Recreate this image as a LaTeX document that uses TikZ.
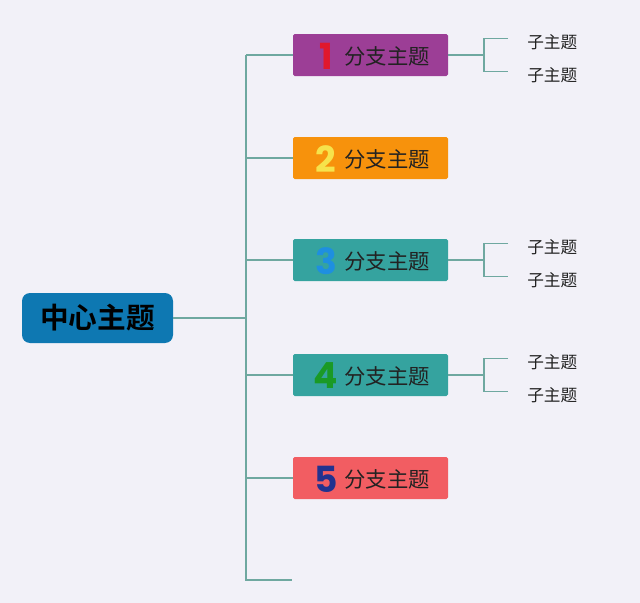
\documentclass[tikz,border=0pt]{standalone}
\usepackage{fontspec}
\newfontfamily\cjk{Noto Sans CJK SC}
\newfontfamily\cjkb{Noto Sans CJK SC Bold}
\newfontfamily\numf{Poppins Bold}
\definecolor{bgc}{HTML}{F2F1F8}
\definecolor{linec}{HTML}{6FA8A0}
\definecolor{cen}{HTML}{0E78B2}
\definecolor{bpurple}{HTML}{9C3E96}
\definecolor{borange}{HTML}{F7920C}
\definecolor{bteal}{HTML}{35A39F}
\definecolor{bred}{HTML}{F25D62}
\definecolor{n1}{HTML}{E0182D}
\definecolor{n2}{HTML}{F6E34B}
\definecolor{n3}{HTML}{1E8FE0}
\definecolor{n4}{HTML}{1A9A25}
\definecolor{n5}{HTML}{22328F}
\definecolor{txt}{HTML}{222222}
\begin{document}
\begin{tikzpicture}[x=0.75pt,y=-0.75pt,
  conn/.style={draw=linec,line width=0.9pt},
  branchbox/.style={rectangle,rounded corners=1.2pt,minimum width=155*0.75pt,minimum height=42*0.75pt,inner sep=0pt},
  numtxt/.style={font=\numf\fontsize{27}{27}\selectfont,inner sep=0pt},
  brtxt/.style={font=\cjk\fontsize{16}{16}\selectfont,text=txt},
  subtxt/.style={font=\cjk\fontsize{12.5}{12.5}\selectfont,text=txt,inner sep=0pt}]
\fill[bgc] (0,0) rectangle (640,603);
\useasboundingbox (0,0) rectangle (640,603);
% central
\node[fill=cen,rounded corners=6pt,minimum width=151*0.75pt,minimum height=50*0.75pt,inner sep=0pt,font=\cjkb\fontsize{21.5}{21.5}\selectfont,text=black] (c) at (97.5,318) {中心主题};
% trunk
\coordinate (t0) at (246,318);
\coordinate (ttop) at (246,55);
\coordinate (tbot) at (246,580);
\coordinate (tend) at (292,580);
\draw[conn] (c.east) -- (t0);
\draw[conn] (ttop) -- (tbot) -- (tend);
% branches
\foreach \i/\y/\bc/\nc in {1/55/bpurple/n1,2/158/borange/n2,3/260/bteal/n3,4/375/bteal/n4,5/478/bred/n5}{
  \node[branchbox,fill=\bc] (b\i) at (370.5,\y) {};
  \node[numtxt,text=\nc,anchor=center] (num\i) at (326,\y+1) {\i};
  \node[brtxt] (bt\i) at (387,\y+1) {分支主题};
  \coordinate (j\i) at (246,\y);
  \draw[conn] (j\i) -- (b\i.west);
}
% subtopics
\foreach \i/\y in {1/55,3/260,4/375}{
  \coordinate (k\i) at (484,\y);
  \coordinate (ka\i) at (484,\y-16.5);
  \coordinate (kb\i) at (484,\y+16.5);
  \coordinate (ea\i) at (508,\y-16.5);
  \coordinate (eb\i) at (508,\y+16.5);
  \draw[conn] (b\i.east) -- (k\i);
  \draw[conn] (ea\i) -- (ka\i) -- (kb\i) -- (eb\i);
  \node[subtxt,anchor=west] (sa\i) at (527,\y-13) {子主题};
  \node[subtxt,anchor=west] (sb\i) at (527,\y+20) {子主题};
}
\end{tikzpicture}
\end{document}
